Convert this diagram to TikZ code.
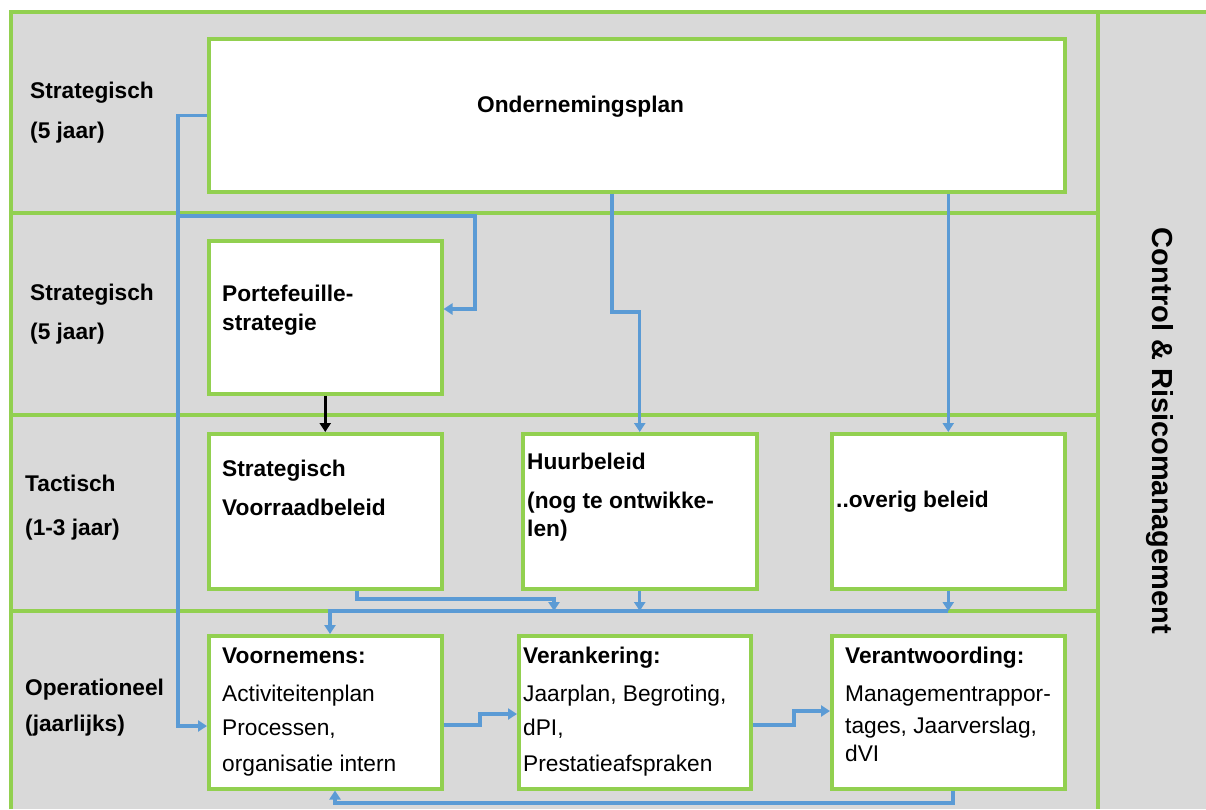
\documentclass[tikz,border=0pt]{standalone}
\usepackage{fontspec}
\setmainfont{Liberation Sans}
\usetikzlibrary{arrows.meta}
\definecolor{lgreen}{RGB}{146,208,80}
\definecolor{bgray}{RGB}{217,217,217}
\definecolor{lblue}{RGB}{91,155,213}
\tikzset{
 box/.style={draw=lgreen, line width=3.5pt, fill=white, inner sep=0pt, anchor=north west},
 frameline/.style={draw=lgreen, line width=3.5pt},
 conn/.style={draw=lblue, line width=3.2pt, -{Triangle[width=11pt,length=9pt]}},
 plainconn/.style={draw=lblue, line width=3.2pt},
 lbl/.style={anchor=base west, inner sep=0pt, font=\fontsize{22.7}{27}\selectfont\bfseries},
 txt/.style={anchor=base west, inner sep=0pt, font=\fontsize{22.7}{27}\selectfont},
}
\begin{document}
\begin{tikzpicture}[x=1pt,y=-1pt]
\useasboundingbox (0,0) rectangle (1206,809);
% background
\fill[bgray] (11,12) rectangle (1206,809);
% frame lines
\draw[frameline] (11,809) -- (11,12) -- (1206,12);
\draw[frameline] (1098,12) -- (1098,809);
\draw[frameline] (11,213) -- (1098,213);
\draw[frameline] (11,415) -- (1098,415);
\draw[frameline] (11,611) -- (1098,611);
% boxes
\node[box, minimum width=856pt, minimum height=153pt] (ond) at (207,37) {};
\node[box, minimum width=233pt, minimum height=153pt] (port) at (207,239) {};
\node[box, minimum width=233pt, minimum height=155pt] (voor) at (207,432) {};
\node[box, minimum width=234pt, minimum height=155pt] (huur) at (521,432) {};
\node[box, minimum width=233pt, minimum height=155pt] (over) at (830,432) {};
\node[box, minimum width=233pt, minimum height=153pt] (vorn) at (207,634) {};
\node[box, minimum width=232pt, minimum height=153pt] (vera) at (517,634) {};
\node[box, minimum width=233pt, minimum height=153pt] (vant) at (830,634) {};
% connectors
\coordinate (j1) at (178,216);
\draw[plainconn] (ond.west) -| (j1);
\draw[conn] (j1) -- (475,216) -- (475,309) -- (port.east |- 0,309);
\draw[conn] (j1) |- (vorn.west |- 0,726);
\draw[black, line width=2.6pt, -{Triangle[width=11pt,length=9pt]}] (port.south) -- (voor.north);
\draw[conn] (ond.south -| 612,0) -- (612,312) -| (huur.north);
\draw[conn] (ond.south -| over.north) -- (over.north);
\draw[conn] (voor.south -| 357,0) -- (357,599) -| (554,611);
\draw[conn] (huur.south) -- (huur.south |- 0,611);
\draw[conn] (over.south) -- (over.south |- 0,611);
\draw[conn] (over.south |- 0,611) -- (330,611) -- (vorn.north -| 330,0);
\draw[conn] (vorn.east |- 0,725) -- (480,725) |- (vera.west |- 0,714);
\draw[conn] (vera.east |- 0,725) -- (794,725) |- (vant.west |- 0,711);
\draw[conn] (vant.south -| 953,0) -- (953,803) -| (vorn.south -| 335,0);
% row labels
\node[lbl] (r1a) at (30,98) {Strategisch};
\node[lbl] (r1b) at (30,138) {(5 jaar)};
\node[lbl] (r2a) at (30,300) {Strategisch};
\node[lbl] (r2b) at (30,339) {(5 jaar)};
\node[lbl] (r3a) at (25,491) {Tactisch};
\node[lbl] (r3b) at (25,535) {(1-3 jaar)};
\node[lbl] (r4a) at (25,695) {Operationeel};
\node[lbl] (r4b) at (25,731) {(jaarlijks)};
% box texts
\node[lbl] (t1) at (477,112) {Ondernemingsplan};
\node[lbl] (t2a) at (222,301) {Portefeuille-};
\node[lbl] (t2b) at (222,330) {strategie};
\node[lbl] (t3a) at (222,476) {Strategisch};
\node[lbl] (t3b) at (222,515) {Voorraadbeleid};
\node[lbl] (t4a) at (527,469) {Huurbeleid};
\node[lbl] (t4b) at (527,508) {(nog te ontwikke-};
\node[lbl] (t4c) at (527,536) {len)};
\node[lbl] (t5) at (836,507) {..overig beleid};
\node[lbl] (t6a) at (222,663) {Voornemens:};
\node[txt] (t6b) at (222,701) {Activiteitenplan};
\node[txt] (t6c) at (222,735) {Processen,};
\node[txt] (t6d) at (222,771) {organisatie intern};
\node[lbl] (t7a) at (523,663) {Verankering:};
\node[txt] (t7b) at (523,701) {Jaarplan, Begroting,};
\node[txt] (t7c) at (523,735) {dPI,};
\node[txt] (t7d) at (523,771) {Prestatieafspraken};
\node[lbl] (t8a) at (845,663) {Verantwoording:};
\node[txt] (t8b) at (845,701) {Managementrappor-};
\node[txt] (t8c) at (845,733) {tages, Jaarverslag,};
\node[txt] (t8d) at (845,761) {dVI};
\node[rotate=-90, inner sep=0pt, font=\fontsize{29}{34}\selectfont\bfseries] (ctrl) at (1160,431) {Control \& Risicomanagement};
\end{tikzpicture}
\end{document}
